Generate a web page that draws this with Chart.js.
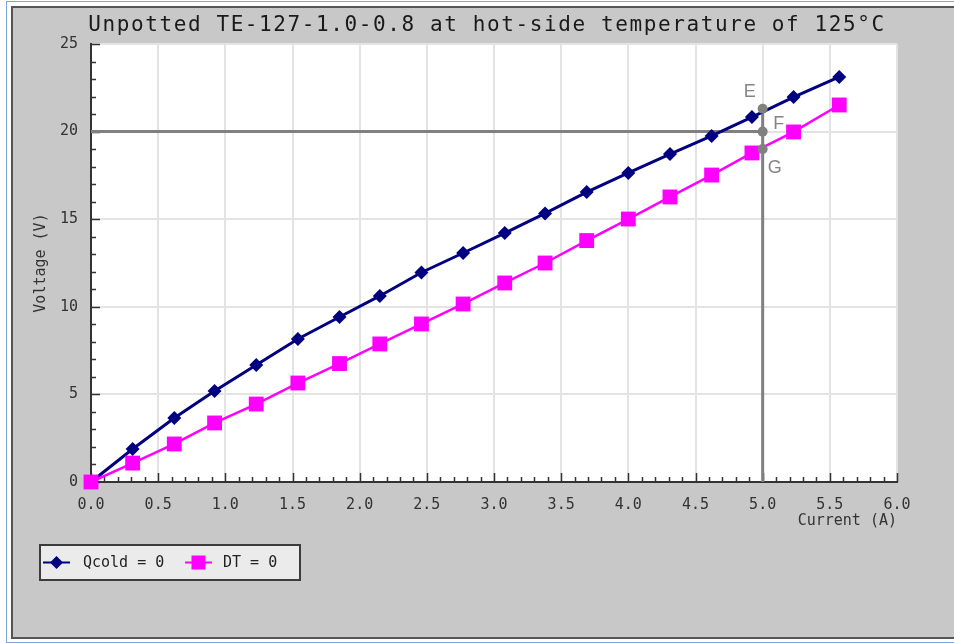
<!DOCTYPE html>
<html>
<head>
<meta charset="utf-8">
<script src="https://cdn.jsdelivr.net/npm/chart.js@4.4.1/dist/chart.umd.min.js"></script>
<style>
    html, body { margin: 0; padding: 0; background: #fff; }
    #marco { position: relative; width: 954px; height: 643px; overflow: hidden; }
    #borde { position: absolute; left: 6px; top: 1px; width: 960px; height: 640px; border: 1px solid #7ba7dc; border-right: none; }
    #panel { position: absolute; left: 11px; top: 6px; width: 960px; height: 629px; border: 2px solid #555; border-right: none; background: #c8c8c8; }
    canvas { position: absolute; left: 0; top: 0; }
</style>
</head>
<body>
<div id="marco">
    <div id="borde"></div>
    <div id="panel"></div>
    <canvas id="chartVoltaje" width="954" height="643"></canvas>
</div>
<script>
const titulo = "Unpotted TE-127-1.0-0.8 at hot-side temperature of 125°C";
const etiquetas = ["Qcold = 0", "DT = 0"];

const corriente = [0, 0.31, 0.62, 0.92, 1.23, 1.54, 1.85, 2.15, 2.46, 2.77, 3.08, 3.38, 3.69, 4.00, 4.31, 4.62, 4.92, 5.23, 5.57];
const voltajeQcold = [0, 1.88, 3.65, 5.19, 6.68, 8.16, 9.42, 10.62, 11.96, 13.07, 14.21, 15.33, 16.55, 17.64, 18.72, 19.75, 20.83, 21.97, 23.12];
const voltajeDT = [0, 1.08, 2.17, 3.37, 4.45, 5.65, 6.76, 7.88, 9.02, 10.16, 11.36, 12.50, 13.78, 15.01, 16.27, 17.52, 18.78, 19.98, 21.52];

// puntos de lectura E, F, G a 5.0 A
const letrasEFG = ["E", "F", "G"];
const corrienteEFG = [5.0, 5.0, 5.0];
const voltajeEFG = [21.3, 20.0, 19.0];
const voltajeObjetivo = 20;

const ticksX = [0, 6, 0.5];
const ticksY = [0, 25, 5];

const gris = "#808080";
const fuente = "'DejaVu Sans Mono', monospace";

const aPuntos = (xs, ys) => xs.map((x, i) => ({ x, y: ys[i] }));

const marcasEjes = {
    id: "marcasEjes",
    beforeDraw(chart) {
        const { ctx, chartArea: a } = chart;
        ctx.save();
        ctx.fillStyle = "#fff";
        ctx.fillRect(a.left, a.top, a.right - a.left, a.bottom - a.top);
        ctx.restore();
    },
    beforeDatasetsDraw(chart) {
        const { ctx, scales: { x, y } } = chart;
        ctx.save();
        ctx.strokeStyle = "#333";
        ctx.lineWidth = 1.5;
        ctx.beginPath();
        for (let i = 0; i <= 60; i++) {
            const px = Math.round(x.getPixelForValue(i / 10)) + 0.5;
            const largo = i % 5 === 0 ? 9 : 5;
            ctx.moveTo(px, y.bottom);
            ctx.lineTo(px, y.bottom - largo);
        }
        for (let j = 0; j <= 25; j++) {
            const py = Math.round(y.getPixelForValue(j)) + 0.5;
            const largo = j % 5 === 0 ? 9 : 5;
            ctx.moveTo(x.left, py);
            ctx.lineTo(x.left + largo, py);
        }
        ctx.stroke();
        ctx.restore();
    }
};

const textosExtra = {
    id: "textosExtra",
    afterDatasetsDraw(chart) {
        const { ctx, scales: { x, y } } = chart;
        const desplaza = [[-13, -17], [16, -8], [12, 19]];
        ctx.save();
        ctx.font = "18px 'Liberation Sans', Arial, sans-serif";
        ctx.fillStyle = "#858585";
        ctx.textAlign = "center";
        ctx.textBaseline = "middle";
        letrasEFG.forEach((l, i) => {
            const px = x.getPixelForValue(corrienteEFG[i]) + desplaza[i][0];
            const py = y.getPixelForValue(voltajeEFG[i]) + desplaza[i][1];
            ctx.fillText(l, px, py);
        });
        ctx.restore();
    },
    afterDraw(chart) {
        const { ctx } = chart;
        ctx.save();
        // titulo
        ctx.font = "21px " + fuente;
        ctx.letterSpacing = "1.6px";
        ctx.fillStyle = "#1a1a1a";
        ctx.textAlign = "center";
        ctx.textBaseline = "middle";
        ctx.fillText(titulo, 487, 26);
        ctx.letterSpacing = "0px";

        // leyenda
        ctx.fillStyle = "#ebebeb";
        ctx.fillRect(40, 545, 260, 35);
        ctx.strokeStyle = "#3c3c3c";
        ctx.lineWidth = 2;
        ctx.strokeRect(40, 545, 260, 35);

        const yL = 562.5;
        const ds = chart.data.datasets;
        const items = [[43, 83], [185, 223]];
        items.forEach(([x0, xt], i) => {
            ctx.strokeStyle = ds[i].borderColor;
            ctx.lineWidth = 2;
            ctx.beginPath();
            ctx.moveTo(x0, yL);
            ctx.lineTo(x0 + 27, yL);
            ctx.stroke();
            ctx.fillStyle = ds[i].backgroundColor;
            const cx = x0 + 13.5;
            ctx.beginPath();
            if (i === 0) {
                ctx.moveTo(cx, yL - 6.5);
                ctx.lineTo(cx + 6.5, yL);
                ctx.lineTo(cx, yL + 6.5);
                ctx.lineTo(cx - 6.5, yL);
                ctx.closePath();
            } else {
                ctx.rect(cx - 7, yL - 7, 14, 14);
            }
            ctx.fill();
            ctx.fillStyle = "#222";
            ctx.font = "15px " + fuente;
            ctx.textAlign = "left";
            ctx.fillText(ds[i].label, xt, yL + 1);
        });
        ctx.restore();
    }
};

const ctx = document.getElementById("chartVoltaje").getContext("2d");

new Chart(ctx, {
    type: "line",
    data: {
        datasets: [
            {
                label: etiquetas[0],
                data: aPuntos(corriente, voltajeQcold),
                borderColor: "#000080",
                backgroundColor: "#000080",
                borderWidth: 3,
                pointStyle: "rectRot",
                pointRadius: 7,
                pointBorderWidth: 0,
                order: 2
            },
            {
                label: etiquetas[1],
                data: aPuntos(corriente, voltajeDT),
                borderColor: "#ff00ff",
                backgroundColor: "#ff00ff",
                borderWidth: 2.5,
                pointStyle: "rect",
                pointRadius: 10.5,
                pointBorderWidth: 0,
                order: 1
            },
            {
                label: "linea horizontal",
                data: [{ x: 0, y: voltajeObjetivo }, { x: corrienteEFG[1], y: voltajeObjetivo }],
                borderColor: gris,
                borderWidth: 3,
                pointRadius: 0,
                order: 3
            },
            {
                label: "linea vertical",
                data: [{ x: corrienteEFG[0], y: voltajeEFG[0] }, { x: corrienteEFG[0], y: 0 }],
                borderColor: gris,
                borderWidth: 3,
                pointRadius: 0,
                order: 3
            },
            {
                label: "EFG",
                data: aPuntos(corrienteEFG, voltajeEFG),
                showLine: false,
                backgroundColor: gris,
                borderColor: gris,
                pointRadius: 5,
                pointBorderWidth: 0,
                order: 0
            }
        ]
    },
    options: {
        responsive: false,
        animation: false,
        devicePixelRatio: 1,
        clip: false,
        layout: { padding: { left: 32, right: 57, top: 44, bottom: 113 } },
        plugins: {
            legend: { display: false },
            tooltip: { enabled: false }
        },
        scales: {
            x: {
                type: "linear",
                min: ticksX[0],
                max: ticksX[1],
                afterFit: s => { s.height = 48; },
                ticks: {
                    stepSize: ticksX[2],
                    padding: 14,
                    color: "#333",
                    font: { family: fuente, size: 15 },
                    callback: v => v.toFixed(1)
                },
                grid: { color: "#e3e3e3", lineWidth: 2, drawTicks: false },
                border: { color: "#333", width: 2 },
                title: {
                    display: true,
                    text: "Current (A)",
                    align: "end",
                    color: "#333",
                    padding: 0,
                    font: { family: fuente, size: 15 }
                }
            },
            y: {
                min: ticksY[0],
                max: ticksY[1],
                afterFit: s => { s.width = 59; },
                ticks: {
                    stepSize: ticksY[2],
                    padding: 13,
                    color: "#333",
                    font: { family: fuente, size: 15 }
                },
                grid: { color: "#e3e3e3", lineWidth: 2, drawTicks: false },
                border: { color: "#333", width: 2 },
                title: {
                    display: true,
                    text: "Voltage (V)",
                    color: "#333",
                    padding: 0,
                    font: { family: fuente, size: 15 }
                }
            }
        }
    },
    plugins: [marcasEjes, textosExtra]
});
</script>
</body>
</html>
